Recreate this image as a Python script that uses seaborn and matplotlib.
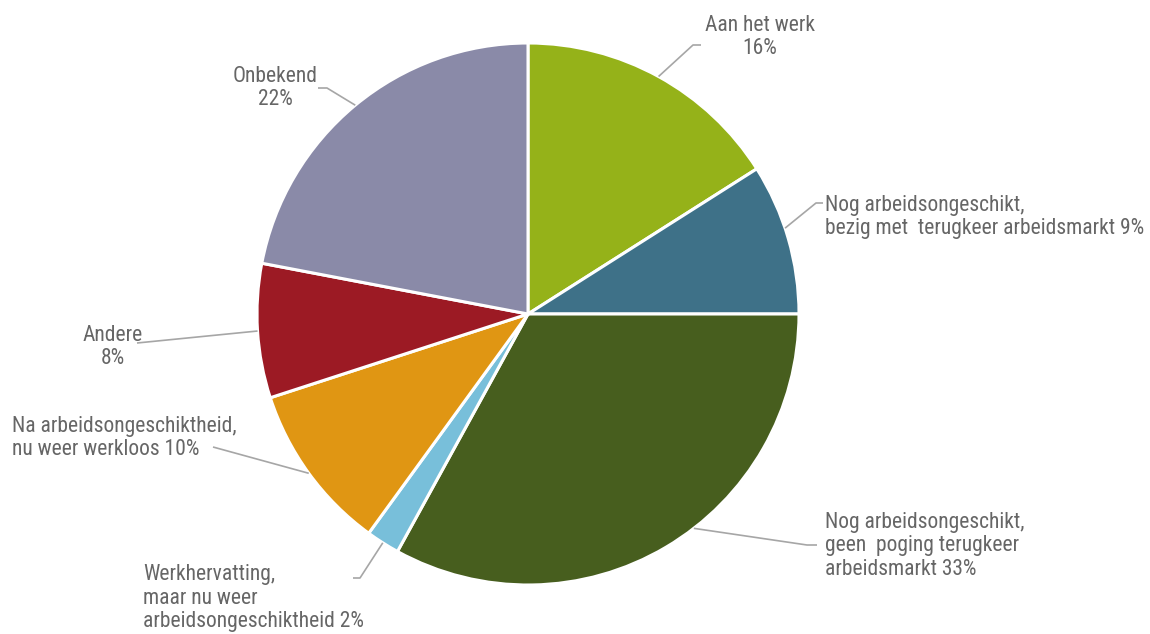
import numpy as np
import matplotlib
matplotlib.use("Agg")
import matplotlib.pyplot as plt
import seaborn as sns

# Status after the work incapacity period (shares in %)
categories = [
    "Aan het werk",
    "Nog arbeidsongeschikt,\nbezig met  terugkeer arbeidsmarkt",
    "Nog arbeidsongeschikt,\ngeen  poging terugkeer\narbeidsmarkt",
    "Werkhervatting,\nmaar nu weer\narbeidsongeschiktheid",
    "Na arbeidsongeschiktheid,\nnu weer werkloos",
    "Andere",
    "Onbekend",
]
shares = [16, 9, 33, 2, 10, 8, 22]
# line break before the percentage (True) or on the same line (False)
pct_on_new_line = [True, False, False, False, False, True, True]
colors = ["#95b219", "#3e7188", "#475e1e", "#78bfda", "#e09613", "#9c1a24", "#8a8aa8"]

sns.set_theme(style="white")
plt.rcParams["font.family"] = ["Roboto Condensed", "Archivo Narrow", "Barlow Semi Condensed", "DejaVu Sans"]

W, H, DPI = 1150, 634, 100
fig = plt.figure(figsize=(W / DPI, H / DPI), dpi=DPI)
ax = fig.add_axes([0, 0, 1, 1])

# pie geometry in pixels, converted to data units (radius = 1)
cx, cy, R = 528, 314, 271


def px(x, y):
    return (x - cx) / R, (cy - y) / R


wedges, _ = ax.pie(
    shares,
    colors=sns.color_palette(colors),
    startangle=90,
    counterclock=False,
    radius=1.0,
    wedgeprops=dict(edgecolor="white", linewidth=2.2),
)

# label layout: text anchor (px), alignment, elbow point (px), end of horizontal stub (px),
# and where along the wedge arc the leader line starts (0..1)
layout = [
    dict(text=(760, 37), ha="center", elbow=(693, 45), stub=(701, 45), at=0.5),
    dict(text=(825, 217), ha="left", elbow=(816, 203), stub=(823, 203), at=0.57),
    dict(text=(825, 546), ha="left", elbow=(807, 545), stub=(817, 545), at=0.56),
    dict(text=(143, 598), ha="left", elbow=(360, 578), stub=(353, 578), at=0.5),
    dict(text=(12, 438), ha="left", elbow=(213, 447), stub=(213, 447), at=0.5),
    dict(text=(113, 347), ha="center", elbow=(137, 343), stub=(137, 343), at=0.5),
    dict(text=(275, 88), ha="center", elbow=(327, 88), stub=(318, 88), at=0.5),
]

text_color = "#666666"
line_color = "#a6a6a6"

for w, cat, val, nl, lay in zip(wedges, categories, shares, pct_on_new_line, layout):
    ang = np.deg2rad(w.theta1 + lay["at"] * (w.theta2 - w.theta1))
    ax0, ay0 = np.cos(ang), np.sin(ang)
    ex, ey = px(*lay["elbow"])
    sx, sy = px(*lay["stub"])
    ax.plot([ax0, ex, sx], [ay0, ey, sy], color=line_color, lw=1.2,
            solid_capstyle="butt", zorder=3)
    label = f"{cat}\n{val}%" if nl else f"{cat} {val}%"
    tx, ty = px(*lay["text"])
    ax.text(tx, ty, label, ha=lay["ha"], va="center", fontsize=15.5,
            color=text_color, linespacing=1.17, zorder=4, multialignment=lay["ha"])

ax.set_aspect("auto")
ax.set_xlim(-cx / R, (W - cx) / R)
ax.set_ylim(-(H - cy) / R, cy / R)
ax.axis("off")

fig.savefig("out.png", dpi=DPI, facecolor="white")
